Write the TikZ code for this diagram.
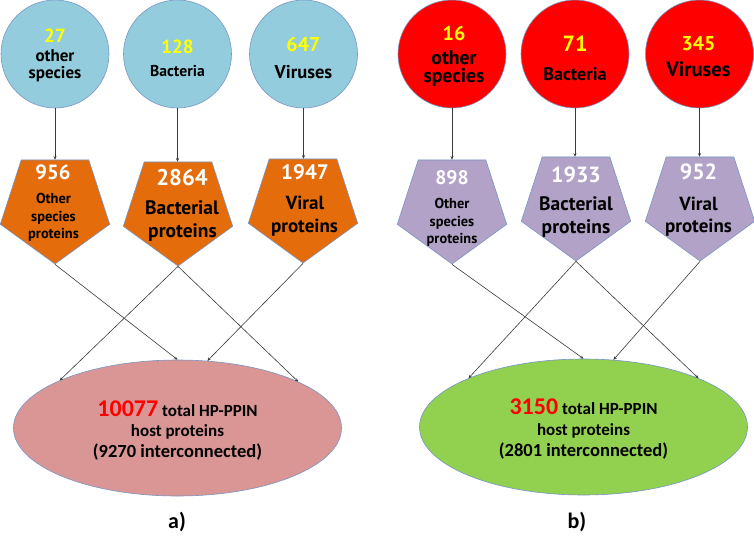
\documentclass[tikz,border=0pt]{standalone}
\usepackage{fontspec}
\setmainfont{Carlito}
\newfontfamily\ptsans{PT Sans}
\usetikzlibrary{shapes.geometric,arrows.meta}
\definecolor{cblue}{HTML}{93CDDD}
\definecolor{cred}{HTML}{FF0000}
\definecolor{corange}{HTML}{E46C0A}
\definecolor{cpurple}{HTML}{B3A2C7}
\definecolor{cpink}{HTML}{D99694}
\definecolor{cgreen}{HTML}{92D050}
\definecolor{yel}{HTML}{FFFF00}
\definecolor{outl}{HTML}{7896C4}
\definecolor{arrc}{HTML}{3A3A3A}
\newcommand\myfs[1]{\fontsize{#1}{#1}\selectfont}
\tikzset{
  circ/.style={circle, minimum size=108pt, inner sep=0pt, draw=outl, line width=0.6pt},
  pent/.style={regular polygon, regular polygon sides=5, shape border rotate=180,
               minimum size=115pt, inner sep=0pt, draw=outl, line width=0.6pt},
  ell/.style={ellipse, minimum width=328pt, minimum height=136pt, inner sep=0pt,
              draw=outl, line width=0.6pt},
  arr/.style={draw=arrc, line width=0.6pt, -{Stealth[length=3.5pt,width=3pt]}},
  w/.style={inner sep=0pt, anchor=base, font=\ptsans\bfseries\myfs{#1}},
  e/.style={inner sep=0pt, anchor=base, font=\bfseries\myfs{#1}},
}
\begin{document}
\begin{tikzpicture}[x=1pt,y=-1pt]
\fill[white] (0,0) rectangle (754,535);
\useasboundingbox (0,0) rectangle (754,535);

% ---------------- panel a ----------------
\node[circ, fill=cblue] (lc1) at (55,54) {};
\node[circ, fill=cblue] (lc2) at (177.5,54) {};
\node[circ, fill=cblue] (lc3) at (303.5,54) {};
\node[w=19, text=yel] (lc1n) at (55,42) {27};
\node[w=17] (lc1a) at (55,61) {other};
\node[w=17] (lc1b) at (55,78) {species};
\node[w=19, text=yel] (lc2n) at (177.5,53) {128};
\node[w=15.7] (lc2a) at (177.5,77) {Bacteria};
\node[w=20, text=yel] (lc3n) at (303.5,52) {647};
\node[w=18.5] (lc3a) at (303.5,78) {Viruses};

\node[pent, fill=corange] (lp1) at (55,206.5) {};
\node[pent, fill=corange] (lp2) at (178,208.5) {};
\node[pent, fill=corange] (lp3) at (303,205.5) {};
\node[w=20.6, text=white] (lp1n) at (53,179) {956};
\node[w=14.4] (lp1a) at (53.5,203) {Other};
\node[w=14.4] (lp1b) at (53.5,221) {species};
\node[w=14.4] (lp1c) at (53.5,238) {proteins};
\node[w=22.7, text=white] (lp2n) at (182,185) {2864};
\node[w=19.5] (lp2a) at (182,214) {Bacterial};
\node[w=19.5] (lp2b) at (182.5,237) {proteins};
\node[w=21, text=white] (lp3n) at (305,179) {1947};
\node[w=19] (lp3a) at (305,209) {Viral};
\node[w=19] (lp3b) at (304.5,232) {proteins};

\node[ell, fill=cpink] (le) at (177.5,428) {};
\node[e=17] (le1) at (177.5,416) {\textcolor{cred}{\myfs{24}10077} total HP-PPIN};
\node[e=17] (le2) at (177.5,436) {host proteins};
\node[e=18.5] (le3) at (177.5,457) {(9270 interconnected)};
\node[e=22] (la) at (177,528) {a)};

\draw[arr] (lc1.south) -- (lc1.south |- lp1.side 3);
\draw[arr] (lc2.south) -- (lc2.south |- lp2.side 3);
\draw[arr] (lc3.south) -- (lc3.south |- lp3.side 3);
\draw[arr] (lp1.corner 1) -- (le.north);
\draw[arr] (lp2.corner 1) -- (le.158);
\draw[arr] (lp2.corner 1) -- (le.21);
\draw[arr] (lp3.corner 1) -- (le.66);

% ---------------- panel b ----------------
\node[circ, fill=cred] (rc1) at (452,54) {};
\node[circ, fill=cred] (rc2) at (575,54) {};
\node[circ, fill=cred] (rc3) at (699.5,54) {};
\node[w=20, text=yel] (rc1n) at (454,41) {16};
\node[w=19.7] (rc1a) at (454,64) {other};
\node[w=19.7] (rc1b) at (454,82) {species};
\node[w=22, text=yel] (rc2n) at (575,52) {71};
\node[w=18.2] (rc2a) at (575,81) {Bacteria};
\node[w=20, text=yel] (rc3n) at (698.5,50) {345};
\node[w=20.6] (rc3a) at (698.5,77) {Viruses};

\node[pent, fill=cpurple] (rp1) at (452,206.5) {};
\node[pent, fill=cpurple] (rp2) at (576,203.5) {};
\node[pent, fill=cpurple] (rp3) at (700,203.5) {};
\node[w=19.6, text=white] (rp1n) at (452,184) {898};
\node[w=14.4] (rp1a) at (452,208) {Other};
\node[w=14.4] (rp1b) at (452,226) {species};
\node[w=14.4] (rp1c) at (452,243) {proteins};
\node[w=22, text=white] (rp2n) at (576,182) {1933};
\node[w=19.5] (rp2a) at (576,210) {Bacterial};
\node[w=19.5] (rp2b) at (576,233) {proteins};
\node[w=22, text=white] (rp3n) at (698.5,179) {952};
\node[w=19] (rp3a) at (698.5,210) {Viral};
\node[w=19] (rp3b) at (698.5,232) {proteins};

\node[ell, fill=cgreen] (re) at (583.5,427) {};
\node[e=17] (re1) at (583.5,414) {\textcolor{cred}{\myfs{24}3150} total HP-PPIN};
\node[e=17] (re2) at (583.5,435) {host proteins};
\node[e=18.5] (re3) at (583.5,456) {(2801 interconnected)};
\node[e=22] (rb) at (577,528) {b)};

\draw[arr] (rc1.south) -- (rc1.south |- rp1.side 3);
\draw[arr] (rc2.south) -- (rc2.south |- rp2.side 3);
\draw[arr] (rc3.south) -- (rc3.south |- rp3.side 3);
\draw[arr] (rp1.corner 1) -- (re.north);
\draw[arr] (rp2.corner 1) -- (re.157);
\draw[arr] (rp2.corner 1) -- (re.23);
\draw[arr] (rp3.corner 1) -- (re.66);
\end{tikzpicture}
\end{document}
